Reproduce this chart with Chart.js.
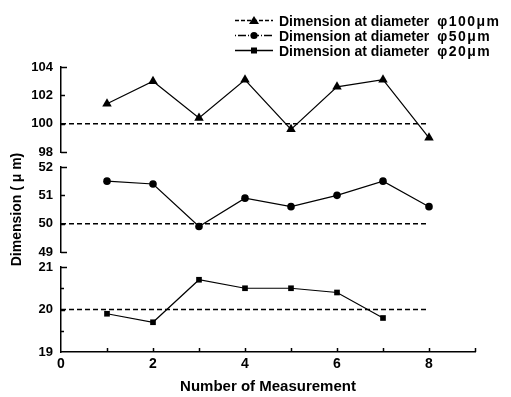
<!DOCTYPE html>
<html>
<head>
<meta charset="utf-8">
<script src="https://cdn.jsdelivr.net/npm/chart.js@4"></script>
<style>
  html, body { margin: 0; padding: 0; background: #fff; }
  #wrap { position: relative; width: 511px; height: 397px; font-family: "Liberation Sans", Arial, sans-serif; }
  #wrap canvas { position: absolute; left: 0; top: 0; }
  #legend { position: absolute; left: 235px; top: 13px; font-weight: bold; font-size: 14px; color: #000; }
  .row { display: flex; align-items: center; height: 15px; white-space: nowrap; }
  .row svg { width: 44px; height: 15px; flex: none; }
  .unit { margin-left: 8px; letter-spacing: 1.5px; }
</style>
</head>
<body>
<div id="wrap">
  <canvas id="c100" width="511" height="397"></canvas>
  <canvas id="c50" width="511" height="397"></canvas>
  <canvas id="c20" width="511" height="397"></canvas>
  <div id="legend"></div>
</div>
<script>
// Values
const measurements = [1, 2, 3, 4, 5, 6, 7, 8];
const dia100 = [101.4, 103.0, 100.4, 103.1, 99.6, 102.6, 103.1, 99.0];
const dia50 = [51.5, 51.4, 49.9, 50.9, 50.6, 51.0, 51.5, 50.6];
const dia20 = [19.9, 19.7, 20.7, 20.5, 20.5, 20.4, 19.8];
const nominal = [100, 50, 20];
const nominalSpan = [0, 8];
const range100 = [98, 104];
const range50 = [49, 52];
const range20 = [19, 21];
const xRange = [0, 9];
const seriesLabel = 'Dimension at diameter';
const seriesUnits = ['\u03c6100\u03bcm', '\u03c650\u03bcm', '\u03c620\u03bcm'];

const FONT = "'Liberation Sans', Arial, sans-serif";
Chart.defaults.font.family = FONT;
Chart.defaults.font.weight = 'bold';
Chart.defaults.color = '#000';

// Inward tick marks, like the original plot
const innerTicks = {
  id: 'innerTicks',
  afterDraw(chart) {
    const ctx = chart.ctx;
    const y = chart.scales.y;
    const x = chart.scales.x;
    ctx.save();
    ctx.strokeStyle = '#000';
    ctx.lineWidth = 1.5;
    const n = y.ticks.length;
    y.ticks.forEach((t, i) => {
      const py = Math.round(y.getPixelForValue(t.value)) + 0.5;
      let len = t.label === '' ? 3 : 4;
      if (i === 0 || i === n - 1) len = 6;
      if (i === 0 && x.options.display) return;
      ctx.beginPath();
      ctx.moveTo(y.right, py);
      ctx.lineTo(y.right + len, py);
      ctx.stroke();
    });
    if (x.options.display) {
      x.ticks.forEach(t => {
        if (t.value === 0) return;
        const px = Math.round(x.getPixelForValue(t.value)) + 0.5;
        ctx.beginPath();
        ctx.moveTo(px, x.top);
        ctx.lineTo(px, x.top - 4);
        ctx.stroke();
      });
    }
    ctx.restore();
  }
};

function points(xs, ys) {
  return ys.map((v, i) => ({ x: xs[i], y: v }));
}

function makePanel(id, values, target, range, step, opts) {
  const datasets = [
    {
      data: points(measurements, values),
      borderColor: '#000',
      backgroundColor: '#000',
      borderWidth: 1.2,
      pointStyle: opts.marker,
      pointRadius: opts.radius,
      pointBorderWidth: 0
    },
    {
      data: points(nominalSpan, [target, target]),
      borderColor: '#000',
      borderWidth: 1.5,
      borderDash: [5, 3],
      pointRadius: 0
    }
  ];
  return new Chart(document.getElementById(id), {
    type: 'line',
    data: { datasets },
    plugins: [innerTicks],
    options: {
      responsive: false,
      animation: false,
      layout: { padding: { top: opts.top, bottom: opts.bottom, left: 0, right: 36 } },
      plugins: { legend: { display: false }, tooltip: { enabled: false } },
      scales: {
        x: {
          type: 'linear',
          min: xRange[0],
          max: xRange[1],
          display: opts.showX,
          grid: { display: false, drawTicks: false },
          border: { display: true, color: '#000', width: 1.5 },
          ticks: {
            stepSize: 1,
            padding: 4,
            font: { size: 14, weight: 'bold' },
            callback: v => (v % 2 === 0 && v <= 8 ? v : '')
          },
          title: {
            display: opts.showX,
            text: 'Number of Measurement',
            font: { size: 15, weight: 'bold' },
            padding: { top: 0, bottom: 1 }
          },
          afterFit: s => { if (opts.showX) s.height = 45; }
        },
        y: {
          min: range[0],
          max: range[1],
          grid: { display: false, drawTicks: false },
          border: { display: true, color: '#000', width: 1.5 },
          ticks: {
            stepSize: step,
            padding: 8,
            font: { size: 13, weight: 'bold' },
            callback: opts.label
          },
          title: {
            display: !!opts.yTitle,
            text: opts.yTitle || '',
            font: { size: 14, weight: 'bold' },
            padding: { top: 9, bottom: 0 }
          },
          afterFit: s => { s.width = 61; }
        }
      }
    }
  });
}

makePanel('c100', dia100, nominal[0], range100, 1, {
  marker: 'triangle', radius: 5.5, top: 67, bottom: 245, showX: false,
  label: v => (v % 2 === 0 ? v : '')
});
makePanel('c50', dia50, nominal[1], range50, 0.5, {
  marker: 'circle', radius: 3.8, top: 167, bottom: 145, showX: false,
  yTitle: 'Dimension ( \u03bc m)',
  label: v => (Number.isInteger(v) ? v : '')
});
makePanel('c20', dia20, nominal[2], range20, 0.5, {
  marker: 'rect', radius: 4, top: 267, bottom: 0, showX: true,
  label: v => (Number.isInteger(v) ? v : '')
});

// HTML legend
const legendStyles = [
  { dash: '4,2', marker: '<polygon points="19,3 24,11 14,11" fill="#000"/>' },
  { dash: '1,2,8,2', marker: '<circle cx="19" cy="7.5" r="3.6" fill="#000"/>' },
  { dash: '', marker: '<rect x="16" y="4.5" width="6" height="6" fill="#000"/>' }
];
const legend = document.getElementById('legend');
seriesUnits.forEach((unit, i) => {
  const st = legendStyles[i];
  const row = document.createElement('div');
  row.className = 'row';
  row.innerHTML =
    '<svg viewBox="0 0 44 15"><line x1="0" y1="7.5" x2="38" y2="7.5" stroke="#000" stroke-width="1.3"' +
    (st.dash ? ' stroke-dasharray="' + st.dash + '"' : '') + '/>' + st.marker + '</svg>' +
    '<span>' + seriesLabel + '</span><span class="unit">' + unit + '</span>';
  legend.appendChild(row);
});
</script>
</body>
</html>
